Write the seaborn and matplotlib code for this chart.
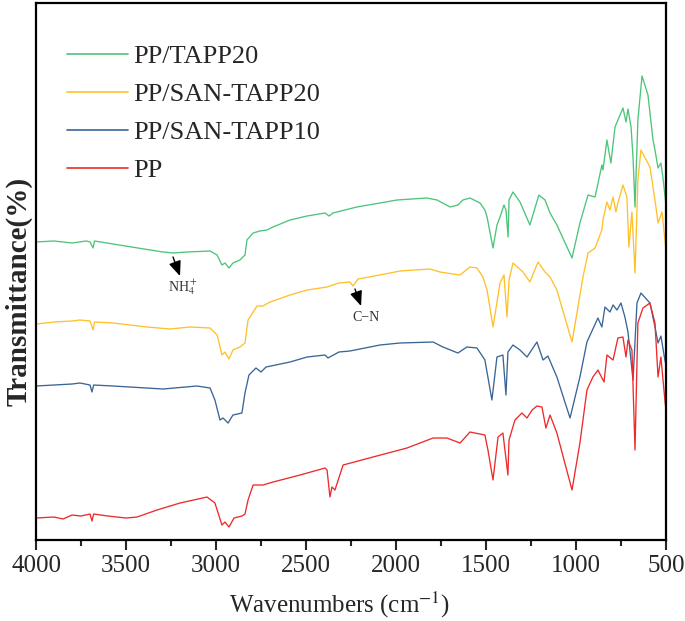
import numpy as np
import pandas as pd
import matplotlib
matplotlib.use("Agg")
import matplotlib.pyplot as plt
import seaborn as sns

# FTIR spectra: wavenumber (cm-1) and stacked transmittance (a.u.)
wn_tapp20 = [4000, 3900, 3800, 3720, 3700, 3683, 3675, 3572, 3400, 3294,
             3239, 3161, 3033, 2994, 2967, 2950, 2928, 2906, 2867, 2839,
             2828, 2794, 2756, 2717, 2683, 2589, 2494, 2394, 2372, 2350,
             2217, 2089, 1994, 1828, 1772, 1700, 1656, 1628, 1589, 1533,
             1506, 1494, 1461, 1439, 1422, 1400, 1389, 1377, 1372, 1350,
             1311, 1256, 1206, 1172, 1144, 1106, 1022, 978, 933, 894,
             856, 850, 828, 806, 783, 739, 722, 711, 694, 683,
             672, 656, 633, 600, 572, 561, 544, 528, 517, 506, 500]
tr_tapp20 = [298, 299, 297, 299, 298, 292, 299, 296, 291, 288,
             287, 288, 289, 285, 275, 277, 272, 277, 280, 285,
             300, 307, 309, 310, 313, 320, 324, 327, 324, 327,
             333, 337, 340, 342, 340, 333, 335, 340, 342, 337,
             330, 323, 292, 315, 323, 335, 330, 303, 340, 348,
             338, 315, 345, 340, 327, 315, 282, 317, 345, 343,
             375, 370, 400, 377, 413, 432, 418, 431, 413, 383,
             333, 420, 464, 445, 400, 390, 372, 377, 363, 345, 335]

wn_san20 = [4000, 3900, 3800, 3756, 3700, 3683, 3675, 3572, 3383, 3256,
            3144, 3033, 2994, 2967, 2950, 2928, 2906, 2867, 2839, 2822,
            2772, 2739, 2700, 2589, 2494, 2383, 2317, 2256, 2239, 2211,
            2033, 1978, 1811, 1756, 1644, 1589, 1550, 1517, 1494, 1461,
            1422, 1400, 1383, 1372, 1350, 1294, 1256, 1211, 1172, 1144,
            1106, 1022, 961, 933, 894, 856, 850, 828, 811, 794,
            778, 767, 739, 717, 706, 689, 672, 656, 639, 589,
            561, 544, 522, 506, 500]
tr_san20 = [216, 218, 219, 220, 219, 210, 218, 217, 213, 211,
            213, 212, 205, 185, 188, 181, 190, 193, 197, 220,
            234, 234, 238, 245, 250, 253, 257, 258, 254, 261,
            267, 269, 271, 268, 265, 273, 272, 263, 250, 213,
            257, 265, 223, 260, 277, 268, 258, 278, 268, 263,
            250, 198, 263, 287, 292, 310, 320, 338, 330, 343,
            328, 337, 355, 343, 293, 328, 267, 360, 390, 373,
            340, 317, 328, 300, 290]

wn_san10 = [4000, 3900, 3800, 3756, 3700, 3689, 3680, 3572, 3294, 3106,
            3033, 3006, 2978, 2961, 2933, 2906, 2856, 2839, 2817, 2778,
            2750, 2722, 2589, 2494, 2394, 2378, 2317, 2256, 2089, 1978,
            1794, 1739, 1656, 1606, 1550, 1506, 1467, 1439, 1406, 1389,
            1378, 1350, 1311, 1272, 1217, 1183, 1156, 1106, 1033, 978,
            939, 878, 856, 839, 811, 794, 772, 750, 728, 711,
            683, 661, 639, 589, 561, 544, 528, 506, 500]
tr_san10 = [154, 155, 156, 157, 155, 148, 155, 154, 151, 154,
            152, 140, 120, 122, 117, 125, 127, 147, 165, 172,
            168, 173, 178, 183, 185, 182, 188, 189, 195, 197,
            198, 193, 187, 193, 192, 180, 140, 183, 185, 145,
            188, 195, 190, 183, 198, 180, 184, 163, 122, 163,
            198, 222, 213, 233, 228, 235, 230, 237, 223, 208,
            160, 237, 247, 237, 213, 197, 204, 180, 175]

wn_pp = [4000, 3900, 3850, 3800, 3750, 3700, 3689, 3680, 3600, 3500,
         3439, 3328, 3200, 3050, 3006, 2967, 2950, 2928, 2900, 2856,
         2839, 2822, 2794, 2739, 2683, 2533, 2394, 2383, 2367, 2356,
         2339, 2294, 2128, 1939, 1794, 1717, 1644, 1589, 1506, 1489,
         1461, 1433, 1406, 1378, 1372, 1339, 1300, 1272, 1244, 1217,
         1189, 1167, 1144, 1106, 1022, 978, 939, 906, 878, 844,
         828, 794, 767, 739, 722, 711, 689, 672, 656, 628,
         589, 561, 544, 528, 506, 500]
tr_pp = [22, 23, 21, 25, 24, 26, 19, 26, 24, 22,
         23, 30, 37, 43, 37, 15, 18, 13, 22, 24,
         26, 40, 55, 55, 58, 65, 72, 70, 43, 53,
         50, 75, 83, 92, 102, 102, 97, 108, 105, 90,
         60, 103, 107, 65, 100, 120, 127, 122, 130, 134,
         133, 112, 125, 107, 50, 97, 150, 163, 170, 158,
         185, 180, 202, 203, 183, 200, 190, 90, 217, 232,
         237, 217, 163, 183, 140, 130]

labels = ["PP/TAPP20", "PP/SAN-TAPP20", "PP/SAN-TAPP10", "PP"]
colors = ["#4CC47A", "#FFC02A", "#3A6596", "#EE2A2A"]

sns.set_style("ticks")
plt.rcParams["font.family"] = ["Liberation Serif", "DejaVu Serif"]
plt.rcParams["mathtext.fontset"] = "stix"

fig = plt.figure(figsize=(6.85, 6.21), dpi=100)
ax = fig.add_axes([0.0526, 0.1304, 0.9196, 0.8648])

series = [(wn_tapp20, tr_tapp20), (wn_san20, tr_san20), (wn_san10, tr_san10), (wn_pp, tr_pp)]
for (wn, tr), lab, col in zip(series, labels, colors):
    sns.lineplot(x=wn, y=tr, color=col, linewidth=0.95, label=lab, ax=ax)

ax.set_xlim(4000, 500)
ax.set_ylim(0, 537)
ax.set_xticks(np.arange(4000, 499, -500))
ax.set_xticks(np.arange(3750, 500, -500), minor=True)
ax.set_yticks([])
ax.tick_params(axis="x", which="major", length=7, width=1.5, labelsize=18, pad=4)
ax.tick_params(axis="x", which="minor", length=4, width=1.5)
for sp in ax.spines.values():
    sp.set_linewidth(1.6)
    sp.set_color("black")

ax.set_xlabel("Wavenumbers (cm$^{-1}$)", fontsize=18)
ax.xaxis.set_label_coords(0.4825, -0.092)
ax.set_ylabel("Transmittance(%)", fontsize=21, fontweight="bold")
ax.yaxis.set_label_coords(-0.006, 0.462)

# band annotations
arrow = dict(arrowstyle="-|>,head_length=0.6,head_width=0.25", color="black", lw=1.0,
             mutation_scale=15, shrinkA=0, shrinkB=0)
ax.annotate("", xy=(3200, 264), xytext=(3239, 283), arrowprops=arrow)
ax.text(3183, 253, "NH$_4^+$", ha="center", va="center", fontsize=10, color="#333333")
ax.annotate("", xy=(2194, 234), xytext=(2228, 251), arrowprops=arrow)
ax.text(2167, 223, "C\u2212N", ha="center", va="center", fontsize=10, color="#333333")

leg = ax.legend(loc="upper left", bbox_to_anchor=(0.049, 0.922), frameon=False, fontsize=19,
                handlelength=2.3, handletextpad=0.22, labelspacing=0.55, borderaxespad=0,
                borderpad=0)
for line in leg.get_lines():
    line.set_linewidth(1.2)

fig.savefig("out.png", dpi=100)
